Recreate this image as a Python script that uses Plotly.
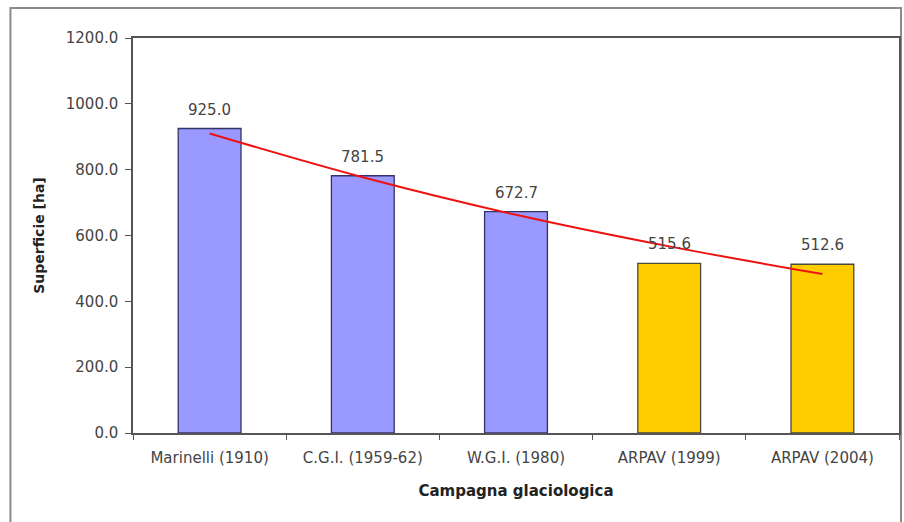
import plotly.graph_objects as go

categories = ["Marinelli (1910)", "C.G.I. (1959-62)", "W.G.I. (1980)", "ARPAV (1999)", "ARPAV (2004)"]
superficie = [925.0, 781.5, 672.7, 515.6, 512.6]
bar_colors = ["#9999FF", "#9999FF", "#9999FF", "#FFCC00", "#FFCC00"]
bar_borders = ["#33336A", "#33336A", "#33336A", "#4A4A3A", "#4A4A3A"]
trend_values = [910, 777, 663, 567, 483]
y_ticks = [0, 200, 400, 600, 800, 1000, 1200]

FONT = "DejaVu Sans, Liberation Sans, Arial"

fig = go.Figure()
fig.add_trace(go.Bar(
    x=categories, y=superficie,
    marker=dict(color=bar_colors, line=dict(color=bar_borders, width=1.3)),
    width=0.41, showlegend=False, hoverinfo="x+y",
))
fig.add_trace(go.Scatter(
    x=categories, y=trend_values, mode="lines",
    line=dict(color="#EE1111", width=2, shape="spline"),
    showlegend=False, hoverinfo="skip",
))
for c, v in zip(categories, superficie):
    fig.add_annotation(x=c, y=v, text=f"{v:.1f}", showarrow=False, yshift=19,
                       font=dict(family=FONT, size=15, color="#444444"))

# outer chart frame
fig.add_shape(type="rect", xref="paper", yref="paper",
              x0=-0.160, x1=1.0026, y0=-0.25, y1=1.076,
              line=dict(color="#8A8A8A", width=2), layer="below")

fig.update_layout(
    width=904, height=522,
    margin=dict(l=133, r=3, t=38, b=89),
    paper_bgcolor="white", plot_bgcolor="white",
    font=dict(family=FONT, size=15, color="#444444"),
    bargap=0.59,
    xaxis=dict(
        title=dict(text="<b>Campagna glaciologica</b>", font=dict(size=15, color="#222222"), standoff=20),
        showline=True, linecolor="#555555", linewidth=1.5, mirror=True,
        ticks="outside", ticklen=5, tickcolor="#555555", tickson="boundaries",
        ticklabelstandoff=10,
        showgrid=False, tickfont=dict(size=15, color="#444444"),
    ),
    yaxis=dict(
        title=dict(text="<b>Superficie [ha]</b>", font=dict(size=14, color="#222222"), standoff=18),
        range=[0, 1200], tickvals=y_ticks, tickformat=".1f",
        showline=True, linecolor="#555555", linewidth=1.5, mirror=True,
        ticks="outside", ticklen=6, tickcolor="#555555",
        ticklabelstandoff=4,
        showgrid=False, zeroline=False, tickfont=dict(size=15, color="#444444"),
    ),
)

fig.write_html("out.html", config={"displayModeBar": False},
               post_script="document.body.style.margin='0';document.body.style.overflow='hidden';")
